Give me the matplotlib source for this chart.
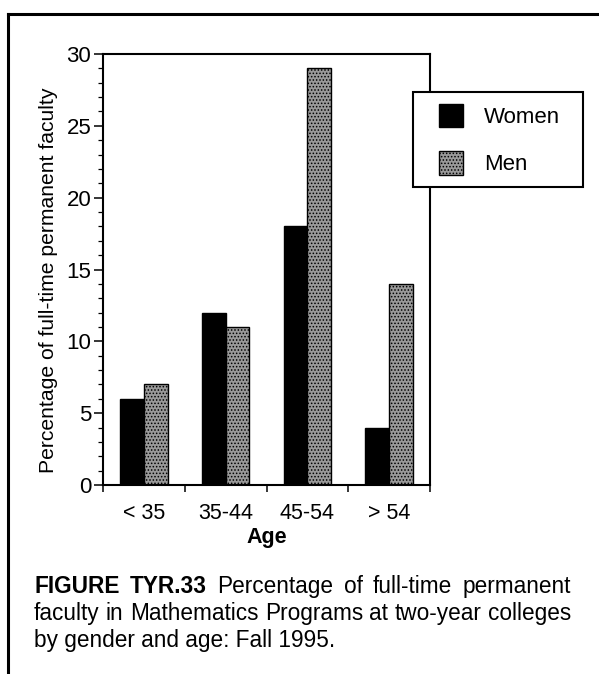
import numpy as np
import matplotlib
matplotlib.use("Agg")
import matplotlib.pyplot as plt
from matplotlib.patches import Rectangle
from matplotlib.lines import Line2D
from matplotlib.legend_handler import HandlerPatch
from matplotlib.ticker import MultipleLocator, FixedLocator

# ---- data ----
age_groups = ["< 35", "35-44", "45-54", "> 54"]
women = [6, 12, 18, 4]
men = [7, 11, 29, 14]
series_names = ["Women", "Men"]
y_label = "Percentage of full-time permanent faculty"
x_label = "Age"
caption_bold = ["FIGURE", "TYR.33"]
caption_line1 = ["Percentage", "of", "full-time", "permanent"]
caption_line2 = "faculty in Mathematics Programs at two-year colleges"
caption_line3 = "by gender and age: Fall 1995."

W, H = 599, 674
plt.rcParams['font.family'] = ['Liberation Sans', 'DejaVu Sans']
plt.rcParams['hatch.linewidth'] = 0.7

fig = plt.figure(figsize=(W / 100, H / 100), dpi=100)

def fx(px):
    return px / W

def fy(py):
    return 1 - py / H

# axes placement (pixels): left 103, right 430, top 54, bottom 485
ax = fig.add_axes([fx(103), fy(485), fx(430) - fx(103), fy(54) - fy(485)])

x = np.arange(len(age_groups))
bw = 0.29
b1 = ax.bar(x - bw / 2, women, bw, color='black', edgecolor='black', linewidth=1, label=series_names[0])
b2 = ax.bar(x + bw / 2, men, bw, color='#999999', edgecolor='black', linewidth=1,
            hatch='.....', label=series_names[1])

ax.set_xlim(-0.5, len(age_groups) - 0.5)
ax.set_ylim(0, 30)
ax.yaxis.set_major_locator(MultipleLocator(5))
ax.yaxis.set_minor_locator(MultipleLocator(1))
ax.set_xticks(x)
ax.set_xticklabels(age_groups)
ax.xaxis.set_minor_locator(FixedLocator(np.arange(-0.5, len(age_groups), 1.0)))

for s in ax.spines.values():
    s.set_linewidth(1.5)
ax.tick_params(axis='y', which='major', direction='out', length=6.5, width=1.1, pad=2, labelsize=16)
ax.tick_params(axis='y', which='minor', direction='out', length=3.6, width=0.9)
ax.tick_params(axis='x', which='major', length=0, pad=13, labelsize=15.5)
ax.tick_params(axis='x', which='minor', direction='out', length=5, width=1.1)
ax.tick_params(top=False, right=False, which='both')

ax.set_xlabel(x_label, fontsize=15.5, fontweight='bold')
ax.xaxis.set_label_coords(0.5, -0.097)
ax.set_ylabel(y_label, fontsize=15.2)
ax.yaxis.set_label_coords(-0.138, 0.474)


def square_patch(legend, orig_handle, xdescent, ydescent, width, height, fontsize):
    side = height
    return Rectangle((width - side - xdescent, -ydescent), side, side)


fs_leg = 16
leg = fig.legend(handles=[b1.patches[0], b2.patches[0]], labels=series_names, loc='upper left',
                 bbox_to_anchor=(fx(413), fy(188), fx(583) - fx(413), fy(92) - fy(188)),
                 mode='expand', borderaxespad=0, fontsize=fs_leg,
                 handlelength=1.72, handleheight=1.25, handletextpad=0.95,
                 labelspacing=1.05, borderpad=0.52, fancybox=False, shadow=False,
                 handler_map={Rectangle: HandlerPatch(patch_func=square_patch)})
leg.get_frame().set_edgecolor('black')
leg.get_frame().set_linewidth(1.5)
leg.get_frame().set_alpha(None)
leg.get_frame().set_facecolor('white')

# outer frame (left and top rules)
fig.add_artist(Line2D([fx(8), fx(8)], [fy(14), fy(674)], color='black', linewidth=2.2,
                      transform=fig.transFigure))
fig.add_artist(Line2D([fx(8), fx(599)], [fy(14), fy(14)], color='black', linewidth=2.2,
                      transform=fig.transFigure))

# caption
cap_family = ['Liberation Sans Narrow', 'Liberation Sans', 'DejaVu Sans']
cap_fs = 16.3
fig.canvas.draw()
renderer = fig.canvas.get_renderer()


def justify(words, weights, x0, x1, ybase):
    texts = []
    for w, wt in zip(words, weights):
        t = fig.text(0, fy(ybase), w, fontsize=cap_fs, fontweight=wt, family=cap_family,
                     va='baseline', ha='left')
        texts.append(t)
    widths = [t.get_window_extent(renderer).width for t in texts]
    gap = (x1 - x0 - sum(widths)) / (len(texts) - 1)
    xc = x0
    for t, wdt in zip(texts, widths):
        t.set_x(fx(xc))
        xc += wdt + gap


justify(caption_bold + caption_line1, ['bold'] * len(caption_bold) + ['normal'] * len(caption_line1),
        34, 571, 593)
justify(caption_line2.split(' '), ['normal'] * len(caption_line2.split(' ')), 34, 571, 620)
fig.text(fx(34), fy(647), caption_line3, fontsize=cap_fs, family=cap_family, va='baseline', ha='left')

fig.savefig('out.png', dpi=100, facecolor='white')
